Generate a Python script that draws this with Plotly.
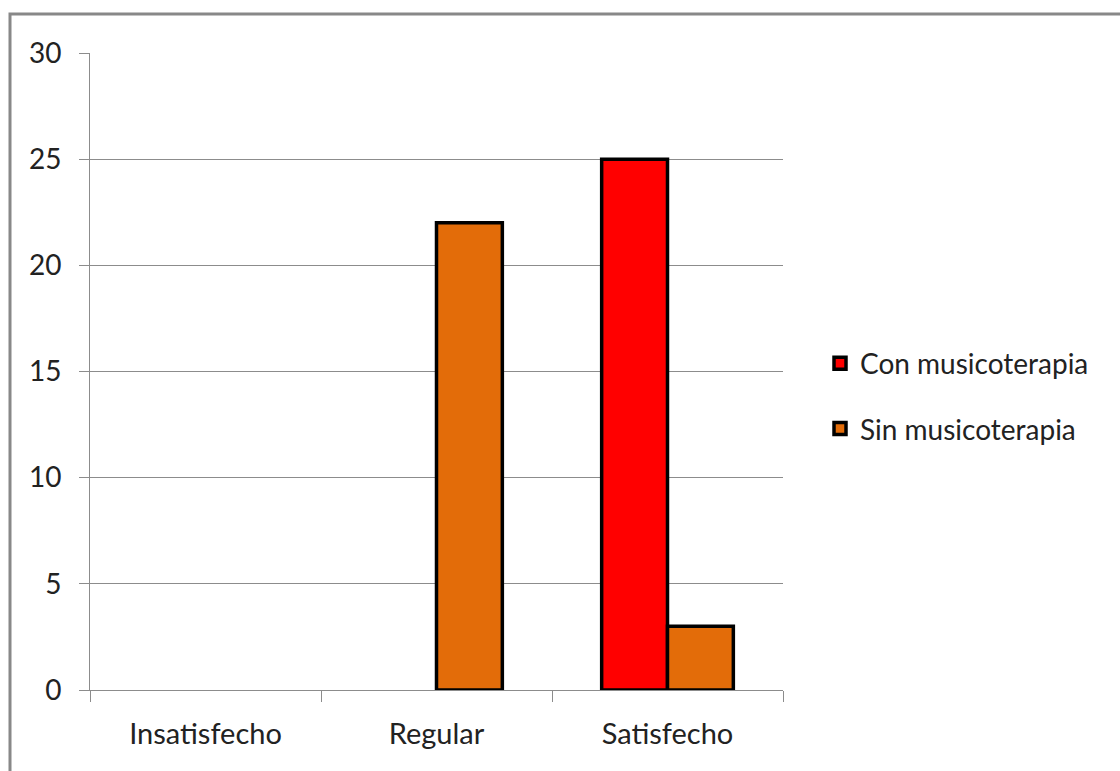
import plotly.graph_objects as go

# Satisfaction level per group
categories = ["Insatisfecho", "Regular", "Satisfecho"]
con_musicoterapia = [0, 0, 25]
sin_musicoterapia = [0, 22, 3]
y_ticks = [0, 5, 10, 15, 20, 25, 30]

W, H = 1120, 771
L, R, T, B = 90, W - 783, 53, H - 690
pw, ph = W - L - R, H - T - B

def px_x(x):
    return (x - L) / pw

def px_y(y):
    return (H - B - y) / ph

def drawn(values):
    # empty bars are left out so no outline is drawn on the baseline
    return [v if v else None for v in values]

font = dict(family="Lato, 'Open Sans', sans-serif", size=29, color="#222222")

fig = go.Figure()
fig.add_trace(go.Bar(
    name="Con musicoterapia", x=categories, y=drawn(con_musicoterapia),
    marker=dict(color="#FF0000", line=dict(color="#000000", width=3.5)),
    legendgroup="con",
))
fig.add_trace(go.Bar(
    name="Sin musicoterapia", x=categories, y=drawn(sin_musicoterapia),
    marker=dict(color="#E36C09", line=dict(color="#000000", width=3.5)),
    legendgroup="sin",
))

fig.update_layout(
    width=W, height=H,
    margin=dict(l=L, r=R, t=T, b=B, pad=0),
    paper_bgcolor="white", plot_bgcolor="white",
    font=font,
    barmode="group", bargap=0.43, bargroupgap=0,
    showlegend=True,
    legend=dict(x=px_x(820), y=px_y(396), xanchor="left", yanchor="middle",
                font=dict(size=28), tracegroupgap=26, bgcolor="rgba(0,0,0,0)"),
    xaxis=dict(
        type="category", tickson="boundaries", ticks="outside", ticklen=11,
        tickcolor="#8c8c8c", tickwidth=1,
        showline=True, linecolor="#8c8c8c", linewidth=1,
        showgrid=False, ticklabelstandoff=18,
    ),
    yaxis=dict(
        range=[0, 30], tickvals=y_ticks, ticks="outside", ticklen=10,
        tickcolor="#8c8c8c", tickwidth=1,
        showline=True, linecolor="#8c8c8c", linewidth=1,
        showgrid=True, gridcolor="#8c8c8c", gridwidth=1,
        zeroline=False, ticklabelstandoff=12, tickfont=dict(size=28),
    ),
    shapes=[dict(
        type="rect", xref="paper", yref="paper", layer="above",
        x0=px_x(10), x1=px_x(1130), y0=px_y(14), y1=px_y(790),
        line=dict(color="#888888", width=3), fillcolor="rgba(0,0,0,0)",
    )],
)

fig.write_html("out.html")
